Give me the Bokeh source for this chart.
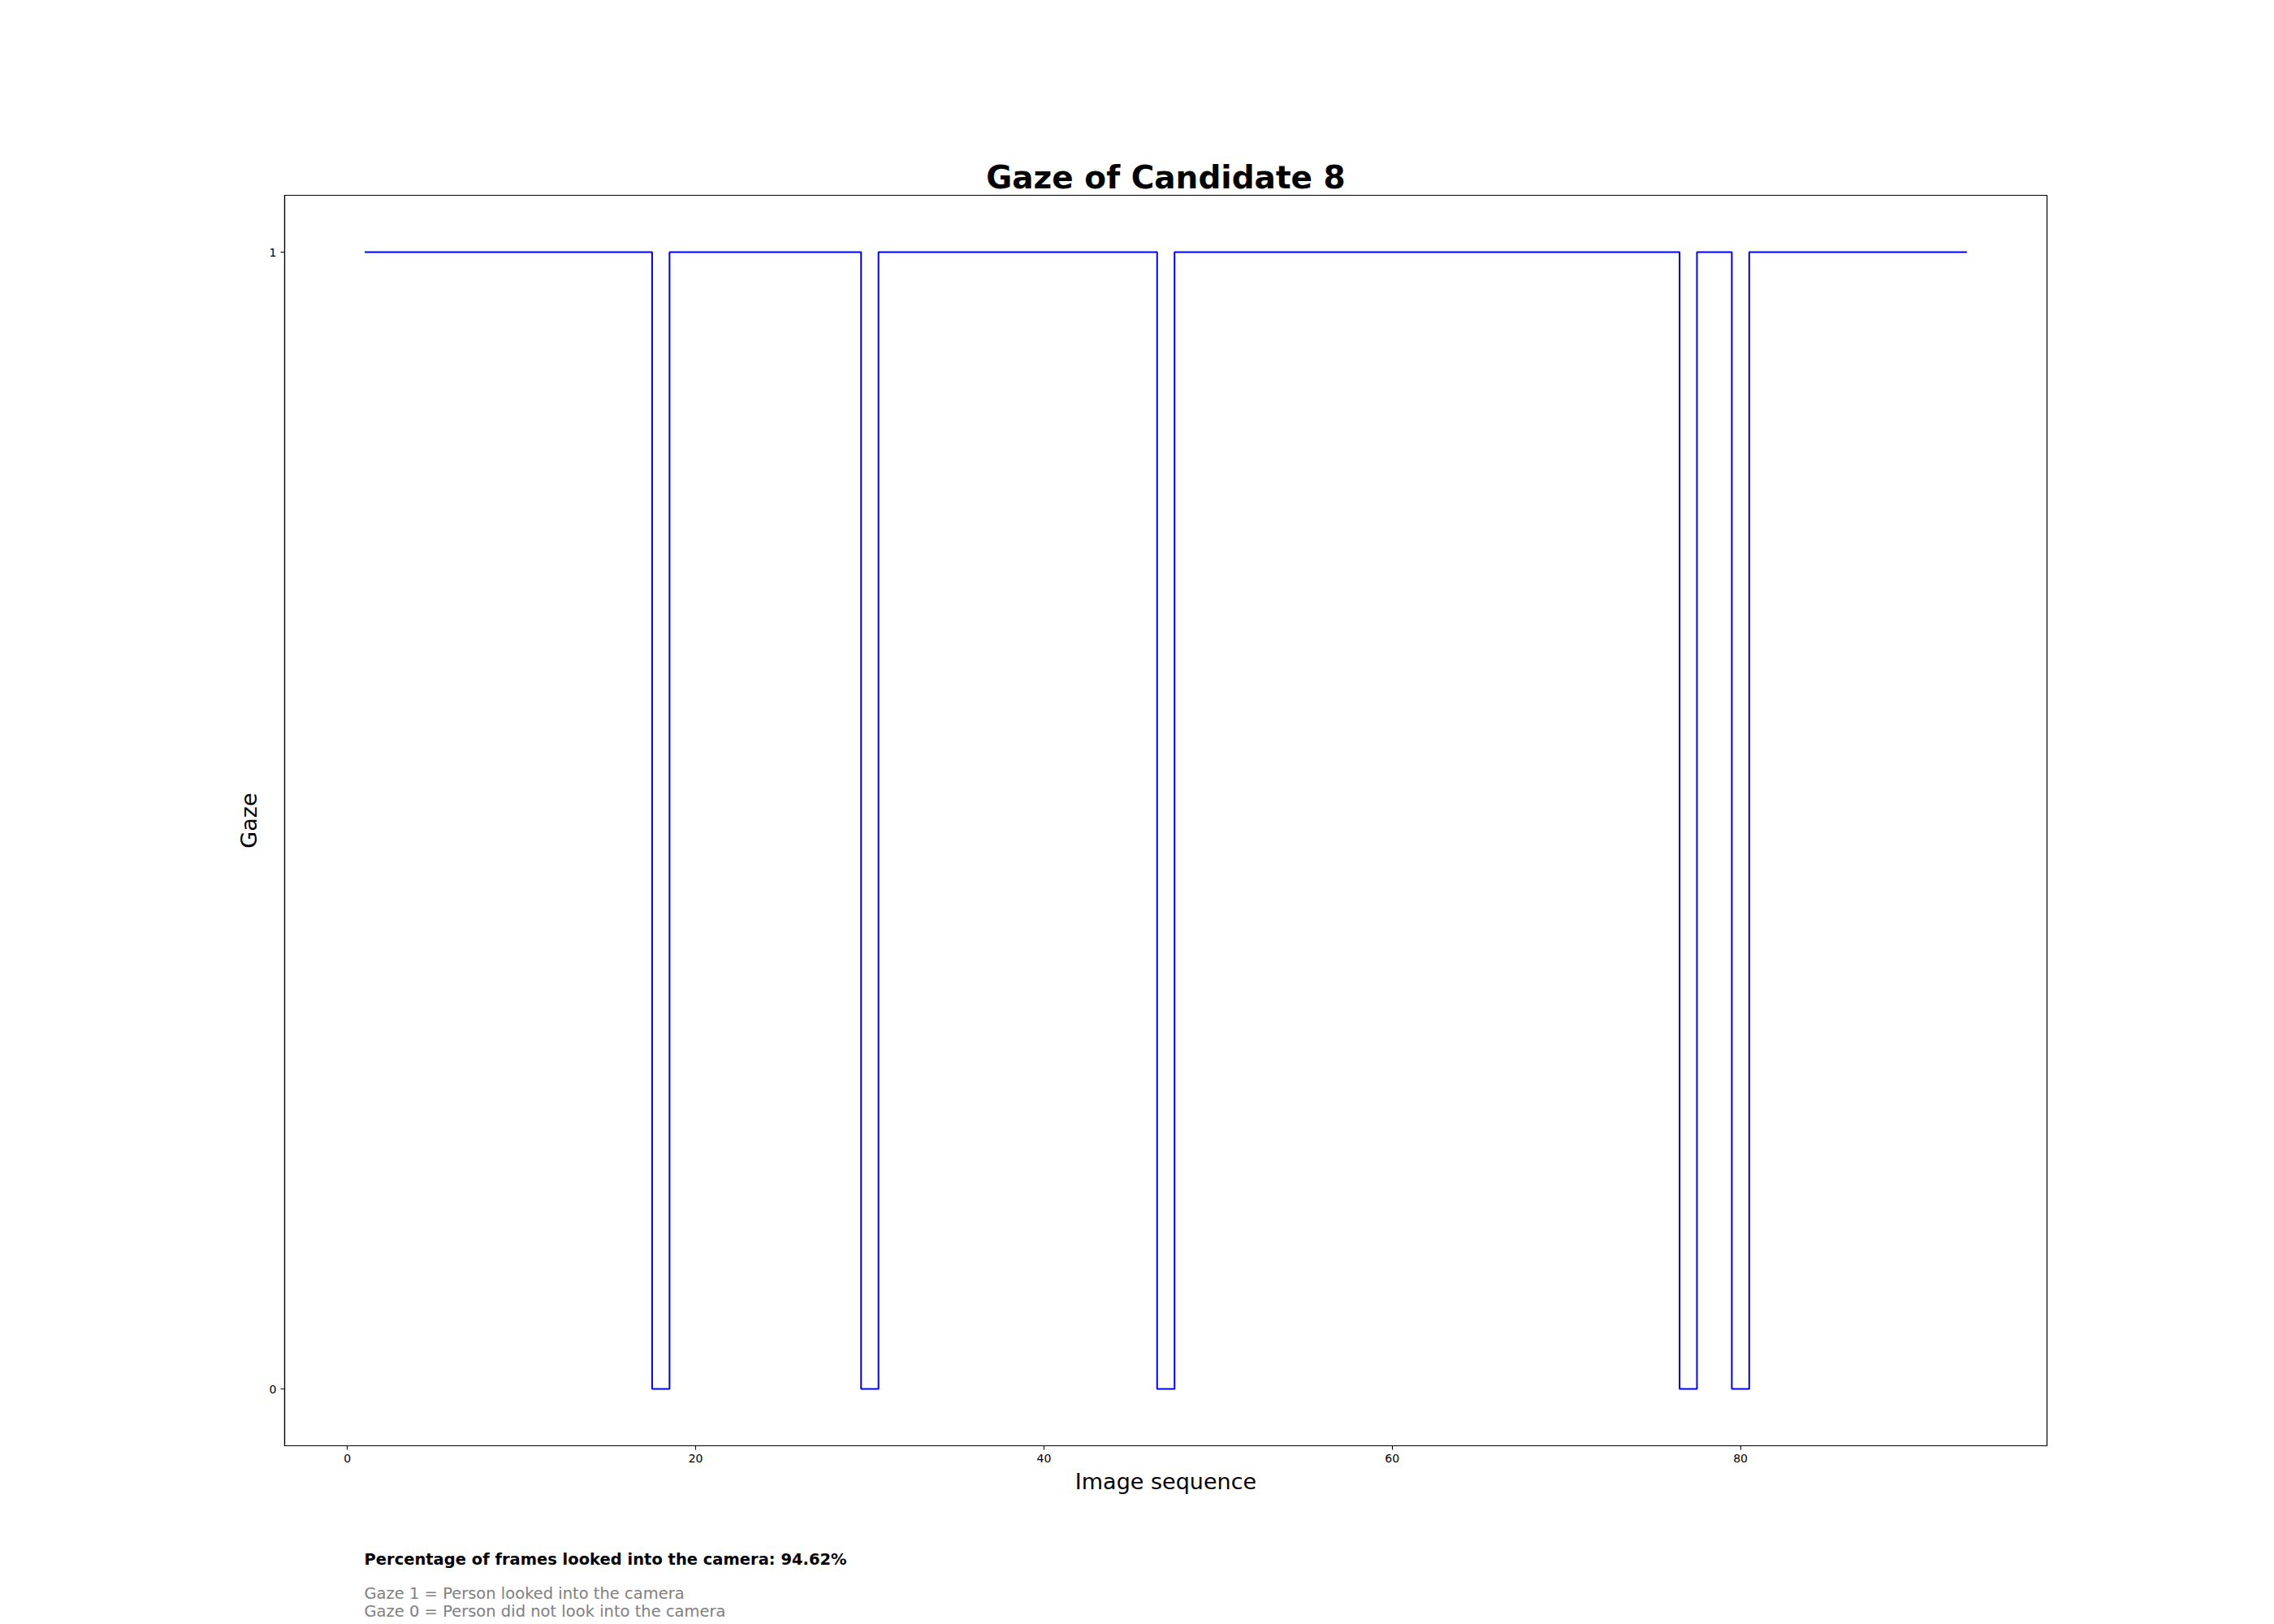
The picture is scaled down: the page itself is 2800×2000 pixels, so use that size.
from bokeh.plotting import figure
from bokeh.models import Range1d, FixedTicker, Title
from bokeh.embed import file_html
from bokeh.resources import INLINE

frames = list(range(1, 94))
gaze = [1, 1, 1, 1, 1, 1, 1, 1, 1, 1,
        1, 1, 1, 1, 1, 1, 1, 0, 1, 1,
        1, 1, 1, 1, 1, 1, 1, 1, 1, 0,
        1, 1, 1, 1, 1, 1, 1, 1, 1, 1,
        1, 1, 1, 1, 1, 1, 0, 1, 1, 1,
        1, 1, 1, 1, 1, 1, 1, 1, 1, 1,
        1, 1, 1, 1, 1, 1, 1, 1, 1, 1,
        1, 1, 1, 1, 1, 1, 0, 1, 1, 0,
        1, 1, 1, 1, 1, 1, 1, 1, 1, 1,
        1, 1, 1]
x_ticks = [0, 20, 40, 60, 80]
y_ticks = [0, 1]
title_text = "Gaze of Candidate 8"
pct = 100.0 * sum(gaze) / len(gaze)
pct_text = "Percentage of frames looked into the camera: %.2f%%" % pct
legend_lines = ["Gaze 1 = Person looked into the camera",
                "Gaze 0 = Person did not look into the camera"]

FONT = "DejaVu Sans"

p = figure(width=2800, height=2000, output_backend="svg", toolbar_location=None,
           x_range=Range1d(-3.6, 97.6), y_range=Range1d(-0.05, 1.05),
           min_border_left=350, min_border_right=280, min_border_top=240,
           min_border_bottom=220)
p.background_fill_color = "white"
p.border_fill_color = "white"
p.outline_line_color = "black"
p.outline_line_width = 1.2
p.grid.visible = False

p.title.text = title_text
p.title.align = "center"
p.title.text_font = FONT
p.title.text_font_size = "39px"
p.title.text_font_style = "bold"
p.title.text_color = "black"
p.title.standoff = 0

p.step(frames, gaze, mode="center", line_color="#0000ff", line_width=2)

for ax in (p.xaxis[0], p.yaxis[0]):
    ax.axis_line_color = "black"
    ax.axis_line_width = 1.2
    ax.major_tick_line_color = "black"
    ax.major_tick_line_width = 1.1
    ax.major_tick_in = 0
    ax.major_tick_out = 5
    ax.minor_tick_line_color = None
    ax.major_label_text_font = FONT
    ax.major_label_text_font_size = "14px"
    ax.major_label_text_color = "black"
    ax.major_label_standoff = 5
    ax.axis_label_text_font = FONT
    ax.axis_label_text_font_size = "27px"
    ax.axis_label_text_font_style = "normal"
    ax.axis_label_text_color = "black"

p.xaxis.ticker = FixedTicker(ticks=x_ticks)
p.yaxis.ticker = FixedTicker(ticks=y_ticks)
p.xaxis.axis_label = "Image sequence"
p.yaxis.axis_label = "Gaze"
p.xaxis.axis_label_standoff = 5
p.yaxis.axis_label_standoff = 7

# spacer between axis label and the notes
p.add_layout(Title(text="\u00a0", align="left", offset=98, standoff=31,
                   text_font=FONT, text_font_size="10px"), "below")
p.add_layout(Title(text=pct_text, align="left", offset=98, standoff=40,
                   text_font=FONT, text_font_size="19.5px", text_font_style="bold",
                   text_color="black"), "below")
p.add_layout(Title(text="\n".join(legend_lines), align="left", offset=98,
                   standoff=-2, vertical_align="top",
                   text_font=FONT, text_font_size="19.5px", text_font_style="normal",
                   text_line_height=0.97, text_color="gray"), "below")

open("out.html", "w").write(file_html(p, INLINE))
